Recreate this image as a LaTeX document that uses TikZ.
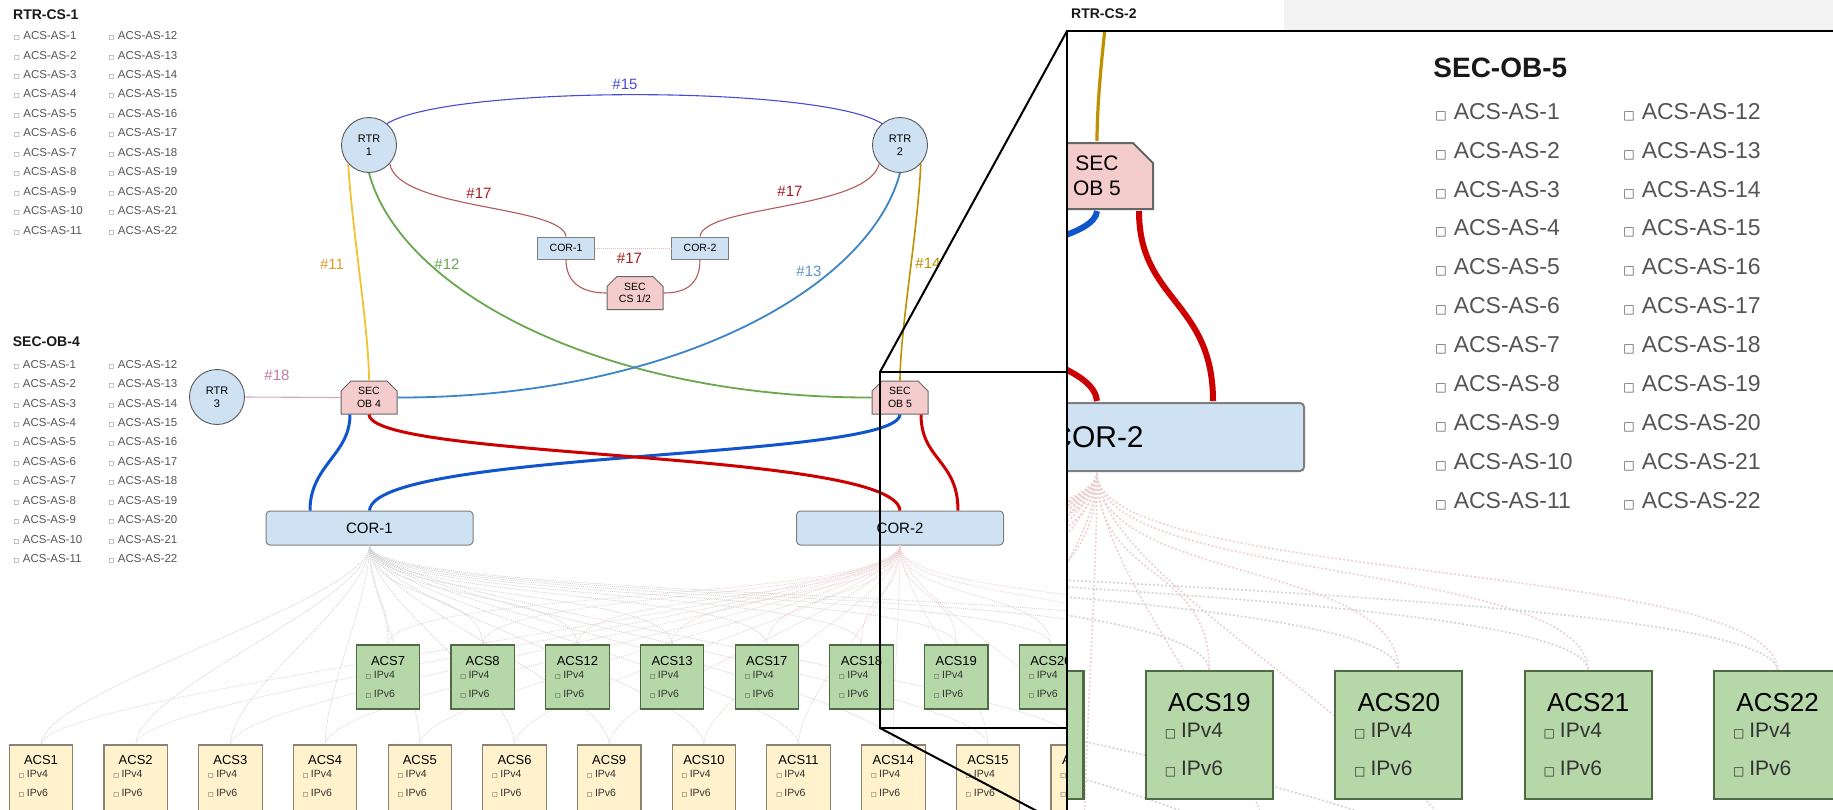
\documentclass[tikz,border=0pt]{standalone}
\usepackage{fontspec}
\setmainfont{Liberation Sans}
\newfontfamily\symf{DejaVu Sans}
\usetikzlibrary{shapes.misc,calc}

\definecolor{blfill}{HTML}{CFE2F3}
\definecolor{rtrline}{HTML}{595959}
\definecolor{corline}{HTML}{7F7F7F}
\definecolor{secfill}{HTML}{F4CCCC}
\definecolor{secline}{HTML}{666666}
\definecolor{grnfill}{HTML}{B6D7A8}
\definecolor{grnline}{HTML}{4E6B45}
\definecolor{crmfill}{HTML}{FFF2CC}
\definecolor{crmline}{HTML}{8A8272}
\definecolor{txtgray}{HTML}{555555}
\definecolor{c15}{HTML}{4A4AD8}
\definecolor{c17}{HTML}{B55A5A}
\definecolor{t17}{HTML}{A61C1C}
\definecolor{c11}{HTML}{F1C232}
\definecolor{t11}{HTML}{E69B2E}
\definecolor{c12}{HTML}{6AA84F}
\definecolor{c13}{HTML}{3D85C6}
\definecolor{t13}{HTML}{5B95CF}
\definecolor{c14}{HTML}{BF9000}
\definecolor{c18}{HTML}{D5A6BD}
\definecolor{t18}{HTML}{C27BA0}
\definecolor{thickblue}{HTML}{1155CC}
\definecolor{thickred}{HTML}{CC0000}
\definecolor{fangray}{HTML}{D4D4D4}
\definecolor{fanpink}{HTML}{ECD2D2}
\definecolor{dotpink}{HTML}{E6B8B8}
\definecolor{stripgray}{HTML}{F3F3F3}

% stroke scale factor (1 in the overview, 2 in the magnified view)
\def\zf{1}
\newif\ifzoomview
\newcommand\fs[2]{\fontsize{#1}{#2}\selectfont}
\newcommand\ckb{{\symf\fontsize{6}{6}\selectfont\char"25A1}}
% text that is only set in the overview (its node lies outside the magnified window)
\newcommand\ov[1]{\ifzoomview\else#1\fi}

\tikzset{
  listtitle/.style={anchor=west, inner sep=0, font=\bfseries\fs{14}{16}, text=black!90},
  listitem/.style={anchor=west, inner sep=0, font=\fs{11.5}{13}, text=txtgray},
  rtr/.style={circle, draw=rtrline, fill=blfill, line width=\zf*0.9pt,
    minimum size=55, inner sep=0, align=center, font=\fs{11}{13.3}},
  corbig/.style={rectangle, rounded corners=4, draw=corline, fill=blfill,
    line width=\zf*1pt, minimum width=207, minimum height=34, inner sep=0, font=\fs{15}{17}},
  corsmall/.style={rectangle, draw=corline, fill=blfill, line width=\zf*1pt,
    minimum width=56.5, minimum height=22, inner sep=0, font=\fs{10.5}{12}},
  secbox/.style={chamfered rectangle, chamfered rectangle corners={north west,north east},
    chamfered rectangle xsep=5, chamfered rectangle ysep=5, draw=secline, fill=secfill,
    line width=\zf*1pt, minimum width=56, minimum height=33, inner sep=0,
    align=center, font=\fs{10.5}{12.5}},
  acsg/.style={rectangle, draw=grnline, fill=grnfill, line width=\zf*1.1pt,
    minimum width=63.5, minimum height=64, inner sep=0},
  acsc/.style={rectangle, draw=crmline, fill=crmfill, line width=\zf*1.1pt,
    minimum width=63.5, minimum height=67, inner sep=0},
  acsname/.style={inner sep=0, font=\fs{13}{15}},
  acsip/.style={anchor=west, inner sep=0, font=\fs{10.5}{12}, text=black!80},
  lab/.style={inner sep=0, font=\fs{15}{17}},
  l15/.style={draw=c15, line width=\zf*1.1pt},
  l17/.style={draw=c17, line width=\zf*1.1pt},
  l11/.style={draw=c11, line width=\zf*1.8pt},
  l12/.style={draw=c12, line width=\zf*1.8pt},
  l13/.style={draw=c13, line width=\zf*1.8pt},
  l14/.style={draw=c14, line width=\zf*1.6pt},
  l18/.style={draw=c18, line width=\zf*1.1pt},
  lthickb/.style={draw=thickblue, line width=\zf*3pt},
  lthickr/.style={draw=thickred, line width=\zf*3pt},
  ldot/.style={draw=dotpink, line width=\zf*1pt, dash pattern=on \zf pt off \zf pt},
  fanone/.style={draw=fangray, line width=\zf*0.8pt, dash pattern=on \zf pt off \zf pt},
  fantwo/.style={draw=fanpink, line width=\zf*0.8pt, dash pattern=on \zf pt off \zf pt},
  zoomframe/.style={draw=black, line width=2pt},
}

% one AS list: #1 name prefix, #2 x of first column, #3 x of second column, #4 y of first row
\newcommand\aslist[4]{%
  \foreach \k in {1,...,11}{%
    \pgfmathtruncatemacro\kk{\k+11}%
    \node[listitem] (#1-\k) at (#2,#4+19.45*\k-19.45) {\ckb\hspace{3.5pt}ACS-AS-\k};
    \node[listitem] (#1-\kk) at (#3,#4+19.45*\k-19.45) {\ckb\hspace{3.5pt}ACS-AS-\kk};
  }}

% the network drawing, reused for the magnified view
\newcommand\drawnet{%
  \ifzoomview
    \node[listtitle] (t-sob5) at (1068,343.5) {SEC-OB-5};
    \aslist{sob5}{1069}{1163}{365.5}
    \def\toprow{5/18,6/19,7/20,8/21,9/22}%
  \else
    \node[listtitle] (t-rcs1) at (13,14.5) {RTR-CS-1};
    \node[listtitle] (t-rcs2) at (1071,14) {RTR-CS-2};
    \node[listtitle] (t-sob4) at (12.7,342) {SEC-OB-4};
    \aslist{rcs1}{14}{108.5}{36}
    \aslist{sob4}{13.5}{108.5}{364.5}
    \def\toprow{0/7,1/8,2/12,3/13,4/17,5/18,6/19,7/20}%
  \fi
  % devices
  \node[rtr] (rtr1) at (369,145) {\ov{RTR\\1}};
  \node[rtr] (rtr2) at (900,145) {\ov{RTR\\2}};
  \node[rtr] (rtr3) at (217,397) {\ov{RTR\\3}};
  \node[secbox] (ob4) at (369,397.5) {\ov{SEC\\OB 4}};
  \node[secbox] (ob5) at (900,397.5) {SEC\\OB 5};
  \node[secbox] (cs12) at (635,293) {\ov{SEC\\CS 1/2}};
  \node[corsmall] (c1s) at (566,248) {\ov{COR-1}};
  \node[corsmall] (c2s) at (700,248) {\ov{COR-2}};
  \node[corbig] (cor1) at (369.5,528) {\ov{COR-1}};
  \node[corbig] (cor2) at (900,528) {COR-2};
  % access switch attachment points
  \foreach \n [count=\i from 0] in {1,2,3,4,5,6,9,10,11,14,15,16}{%
    \coordinate (ab\n) at (41+94.7*\i,745);}
  \foreach \n [count=\i from 0] in {7,8,12,13,17,18,19,20,21,22}{%
    \coordinate (ab\n) at (388+94.7*\i,645);}
  % uplinks from both cores to every access switch
  \foreach \n in {1,2,3,4,5,6,9,10,11,14,15,16,7,8,12,13,17,18,19,20,21,22}{%
    \draw[fanone] (cor1.south) .. controls +(0,55) and +(0,-55) .. (ab\n);
    \draw[fantwo] (cor2.south) .. controls +(0,55) and +(0,-55) .. (ab\n);}
  % access switches
  \ifzoomview\else
    \foreach \n [count=\i from 0] in {1,2,3,4,5,6,9,10,11,14,15,16}{%
      \node[acsc] (acs\n) at (41+94.7*\i,778.5) {};
      \node[acsname] (acs\n-t) at (41+94.7*\i,760) {ACS\n};
      \node[acsip] (acs\n-4) at (41+94.7*\i-22.5,774) {\ckb\hspace{2.5pt}IPv4};
      \node[acsip] (acs\n-6) at (41+94.7*\i-22.5,793) {\ckb\hspace{2.5pt}IPv6};}
  \fi
  \foreach \i/\n in \toprow{%
    \node[acsg] (acs\n) at (388+94.7*\i,677) {};
    \node[acsname] (acs\n-t) at (388+94.7*\i,661) {ACS\n};
    \node[acsip] (acs\n-4) at (388+94.7*\i-22.5,675) {\ckb\hspace{2.5pt}IPv4};
    \node[acsip] (acs\n-6) at (388+94.7*\i-22.5,694) {\ckb\hspace{2.5pt}IPv6};}
  % router links
  \draw[l15] (rtr1.50) .. controls (450,85) and (820,85) .. (rtr2.130);
  \draw[l17] (rtr1.-42) .. controls (398,210) and (562,205) .. (c1s.north);
  \draw[l17] (rtr2.-138) .. controls (868,210) and (704,205) .. (c2s.north);
  \draw[l17] (c1s.south) .. controls (566,285) and (585,293) .. (cs12.west);
  \draw[l17] (c2s.south) .. controls (700,285) and (685,293) .. (cs12.east);
  \draw[ldot] (c1s.east) -- (c2s.west);
  \draw[l11] (rtr1.-138) .. controls (352,230) and (369,330) .. (ob4.north);
  \draw[l14] (rtr2.-42) .. controls (918,230) and (900,330) .. (ob5.north);
  \draw[l12] (rtr1.south) .. controls (400,290) and (600,398) .. (ob5.west);
  \draw[l13] (rtr2.south) .. controls (869,290) and (669,398) .. (ob4.east);
  \draw[l18] (rtr3.east) -- (ob4.west);
  % core links
  \draw[lthickb] ($(ob4.south)+(-19,0)$) .. controls (350,455) and (310,465) .. ($(cor1.north)+(-59.5,0)$);
  \draw[lthickb] (cor1.north) .. controls (374,450) and (897,460) .. (ob5.south);
  \draw[lthickr] (ob4.south) .. controls (372,460) and (895,450) .. (cor2.north);
  \draw[lthickr] ($(ob5.south)+(21,0)$) .. controls (921,460) and (958,460) .. ($(cor2.north)+(58,0)$);
  % link labels
  \ifzoomview\else
    \node[lab, text=c15] (lb15) at (625,84) {\#15};
    \node[lab, text=t17] (lb17a) at (479,193) {\#17};
    \node[lab, text=t17] (lb17b) at (790,191) {\#17};
    \node[lab, text=t17] (lb17c) at (629.5,258) {\#17};
    \node[lab, text=t11] (lb11) at (332,264) {\#11};
    \node[lab, text=c12] (lb12) at (447,264) {\#12};
    \node[lab, text=t13] (lb13) at (809,271) {\#13};
    \node[lab, text=c14] (lb14) at (928,263) {\#14};
    \node[lab, text=t18] (lb18) at (277,375) {\#18};
  \fi
}

\begin{document}
\begin{tikzpicture}[x=1pt,y=-1pt]
  \useasboundingbox (0,0) rectangle (1833,809);
  \fill[white] (0,0) rectangle (1833,809);
  \fill[stripgray] (1284,0) rectangle (1833,31);
  \drawnet
  % zoom marker and its leader lines
  \coordinate (zs-nw) at (880,372);
  \coordinate (zs-se) at (1067,728);
  \coordinate (zs-sw) at (880,728);
  \coordinate (zi-nw) at (1067,31);
  \coordinate (zi-sw) at (1067,827);
  \coordinate (zi-se) at (1845,830);
  \draw[zoomframe] (zs-nw) rectangle (zs-se);
  \draw[zoomframe] (zs-nw) -- (zi-nw);
  \draw[zoomframe] (zs-sw) -- (zi-sw);
  % magnified view
  \begin{scope}
    \clip (zi-nw) rectangle (zi-se);
    \fill[white] (zi-nw) rectangle (zi-se);
    \begin{scope}[shift={(-703,-619)}, scale=2, transform shape, name prefix=z-]
      \def\zf{2}
      \zoomviewtrue
      \drawnet
    \end{scope}
  \end{scope}
  \draw[zoomframe] (zi-nw) rectangle (zi-se);
\end{tikzpicture}
\end{document}
